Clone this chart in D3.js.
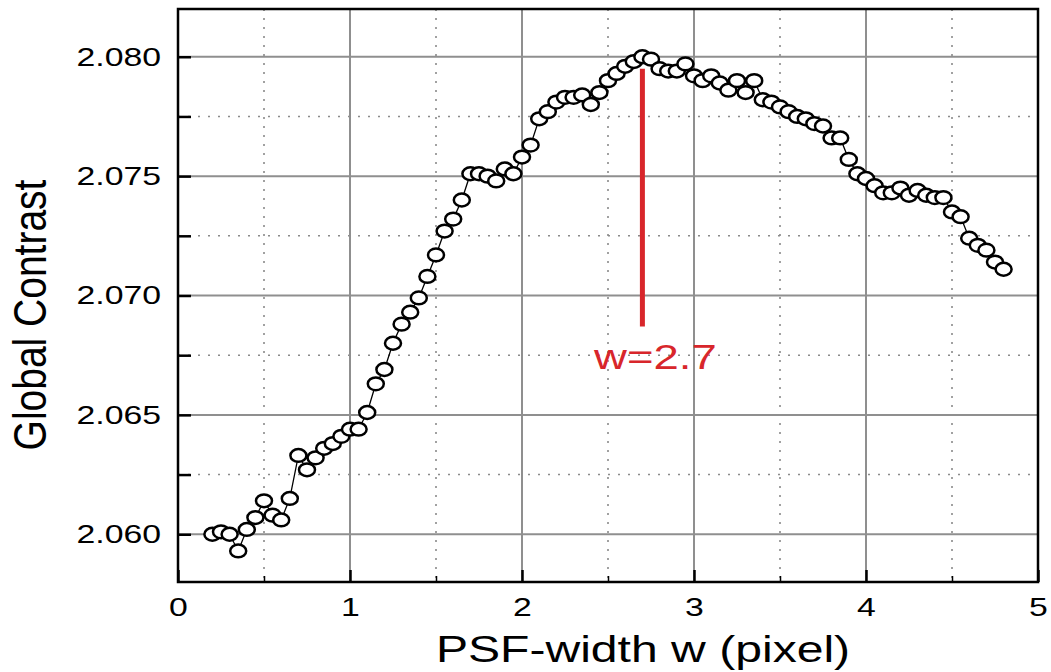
<!DOCTYPE html>
<html>
<head>
<meta charset="utf-8">
<script src="https://cdn.jsdelivr.net/npm/d3@7"></script>
<style>
  body { margin: 0; background: #fff; }
  text { font-family: "Liberation Sans", Arial, sans-serif; }
</style>
</head>
<body>
<script>
// PSF width (pixel) and measured global contrast
var psfWidth = [0.20,0.25,0.30,0.35,0.40,0.45,0.50,0.55,0.60,0.65,
                0.70,0.75,0.80,0.85,0.90,0.95,1.00,1.05,1.10,1.15,
                1.20,1.25,1.30,1.35,1.40,1.45,1.50,1.55,1.60,1.65,
                1.70,1.75,1.80,1.85,1.90,1.95,2.00,2.05,2.10,2.15,
                2.20,2.25,2.30,2.35,2.40,2.45,2.50,2.55,2.60,2.65,
                2.70,2.75,2.80,2.85,2.90,2.95,3.00,3.05,3.10,3.15,
                3.20,3.25,3.30,3.35,3.40,3.45,3.50,3.55,3.60,3.65,
                3.70,3.75,3.80,3.85,3.90,3.95,4.00,4.05,4.10,4.15,
                4.20,4.25,4.30,4.35,4.40,4.45,4.50,4.55,4.60,4.65,
                4.70,4.75,4.80];
var contrast = [2.0600,2.0601,2.0600,2.0593,2.0602,2.0607,2.0614,2.0608,2.0606,2.0615,
                2.0633,2.0627,2.0632,2.0636,2.0638,2.0641,2.0644,2.0644,2.0651,2.0663,
                2.0669,2.0680,2.0688,2.0693,2.0699,2.0708,2.0717,2.0727,2.0732,2.0740,
                2.0751,2.0751,2.0750,2.0748,2.0753,2.0751,2.0758,2.0763,2.0774,2.0777,
                2.0781,2.0783,2.0783,2.0784,2.0780,2.0785,2.0790,2.0793,2.0796,2.0798,
                2.0800,2.0799,2.0795,2.0794,2.0794,2.0797,2.0792,2.0790,2.0792,2.0789,
                2.0786,2.0790,2.0785,2.0790,2.0782,2.0781,2.0779,2.0777,2.0775,2.0774,
                2.0772,2.0771,2.0766,2.0766,2.0757,2.0751,2.0749,2.0746,2.0743,2.0743,
                2.0745,2.0742,2.0744,2.0742,2.0741,2.0741,2.0735,2.0733,2.0724,2.0721,
                2.0719,2.0714,2.0711];

var xTicks = [0, 1, 2, 3, 4, 5];
var xMinor = [0.5, 1.5, 2.5, 3.5, 4.5];
var yTicks = [2.060, 2.065, 2.070, 2.075, 2.080];
var yMinor = [2.0625, 2.0675, 2.0725, 2.0775];

var peakW = 2.7;
var peakMark = [2.0795, 2.0687];
var peakLabel = "w=2.7";

var W = 1051, H = 672;
var pLeft = 178, pRight = 1038, pTop = 9, pBottom = 582;
var sx = 1.3; // horizontal stretch of the original figure

var x = d3.scaleLinear().domain([0, 5]).range([pLeft, pRight]);
var y = d3.scaleLinear().domain([2.058, 2.082]).range([pBottom, pTop]);

var svg = d3.select("body").append("svg")
    .attr("width", W)
    .attr("height", H);

svg.append("rect").attr("width", W).attr("height", H).style("fill", "#fff");

// grid
var grid = svg.append("g");
grid.selectAll(".vmin").data(xMinor).enter().append("line")
    .attr("x1", d => x(d)).attr("x2", d => x(d))
    .attr("y1", pTop).attr("y2", pBottom)
    .style("stroke", "#8a8a8a").style("stroke-width", 1.6)
    .style("stroke-dasharray", "2,7");
grid.selectAll(".hmin").data(yMinor).enter().append("line")
    .attr("x1", pLeft).attr("x2", pRight)
    .attr("y1", d => y(d)).attr("y2", d => y(d))
    .style("stroke", "#8a8a8a").style("stroke-width", 1.6)
    .style("stroke-dasharray", "2,8");
grid.selectAll(".vmaj").data(xTicks.slice(1, -1)).enter().append("line")
    .attr("x1", d => x(d)).attr("x2", d => x(d))
    .attr("y1", pTop).attr("y2", pBottom)
    .style("stroke", "#8f8f8f").style("stroke-width", 2);
grid.selectAll(".hmaj").data(yTicks).enter().append("line")
    .attr("x1", pLeft).attr("x2", pRight)
    .attr("y1", d => y(d)).attr("y2", d => y(d))
    .style("stroke", "#8f8f8f").style("stroke-width", 2);

// connecting line
var pts = psfWidth.map((w, i) => [w, contrast[i]]);
svg.append("path")
    .datum(pts)
    .attr("d", d3.line().x(d => x(d[0])).y(d => y(d[1])))
    .style("fill", "none").style("stroke", "#000").style("stroke-width", 1.3);

// peak marker
svg.append("line")
    .attr("x1", x(peakW)).attr("x2", x(peakW))
    .attr("y1", y(peakMark[0])).attr("y2", y(peakMark[1]))
    .style("stroke", "#d8262b").style("stroke-width", 5);

svg.append("text")
    .attr("transform", "translate(" + (x(peakW) + 13) + "," + 369 + ") scale(" + sx + ",1)")
    .attr("text-anchor", "middle")
    .style("font-size", "35px")
    .style("fill", "#d8262b")
    .text(peakLabel);

// markers
svg.selectAll("ellipse").data(pts).enter().append("ellipse")
    .attr("cx", d => x(d[0]))
    .attr("cy", d => y(d[1]))
    .attr("rx", 8).attr("ry", 6.4)
    .style("fill", "#fff").style("stroke", "#000").style("stroke-width", 2.5);

// frame
svg.append("rect")
    .attr("x", pLeft).attr("y", pTop)
    .attr("width", pRight - pLeft).attr("height", pBottom - pTop)
    .style("fill", "none").style("stroke", "#000").style("stroke-width", 2.5);

// axes
svg.append("g")
    .attr("transform", "translate(0," + pBottom + ")")
    .call(d3.axisBottom(x).tickValues(xTicks).tickSize(-12).tickPadding(16).tickFormat(d3.format("d")));
svg.append("g")
    .attr("class", "minor")
    .attr("transform", "translate(0," + pBottom + ")")
    .call(d3.axisBottom(x).tickValues(xMinor).tickSize(-6).tickFormat(""));

svg.append("g")
    .attr("transform", "translate(" + pLeft + ",0)")
    .call(d3.axisLeft(y).tickValues(yTicks).tickSize(-13).tickPadding(13).tickFormat(d3.format(".3f")));
svg.append("g")
    .attr("transform", "translate(" + pLeft + ",0)")
    .call(d3.axisLeft(y).tickValues(yMinor).tickSize(-13).tickFormat(""));

svg.selectAll(".domain").remove();
svg.selectAll(".tick line").style("stroke", "#000").style("stroke-width", 2.5);
svg.selectAll(".minor .tick line").style("stroke-width", 1.5);
svg.selectAll(".tick text")
    .attr("transform", "scale(" + sx + ",1)")
    .style("font-size", "26px")
    .style("fill", "#000")
    .style("font-family", "'Liberation Sans', Arial, sans-serif");

// titles
svg.append("text")
    .attr("transform", "translate(" + ((pLeft + pRight) / 2 + 35) + ",662) scale(" + sx + ",1)")
    .attr("text-anchor", "middle")
    .style("font-size", "37px")
    .text("PSF-width w (pixel)");

svg.append("text")
    .attr("transform", "translate(46,315) scale(1.2,1) rotate(-90)")
    .attr("text-anchor", "middle")
    .style("font-size", "39px")
    .text("Global Contrast");
</script>
</body>
</html>
